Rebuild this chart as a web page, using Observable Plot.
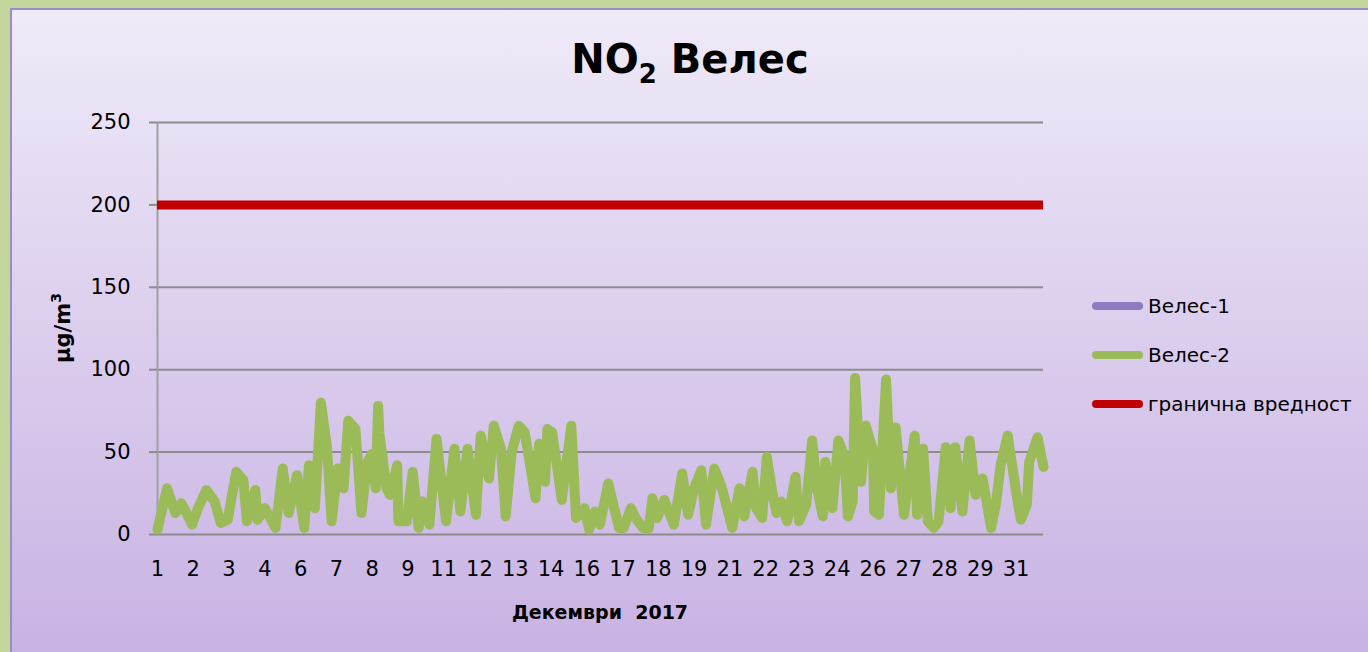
<!DOCTYPE html>
<html>
<head>
<meta charset="utf-8">
<script src="https://cdn.jsdelivr.net/npm/d3@7"></script>
<script src="https://cdn.jsdelivr.net/npm/@observablehq/plot@0.6"></script>
<style>
html,body{margin:0;padding:0;width:1368px;height:652px;overflow:hidden;background:#C3D69B;}
#frame{position:absolute;left:10px;top:8px;width:1358px;height:644px;background:linear-gradient(#EFEAF8,#C8B2E3);border-left:2px solid #9C8BC9;border-top:2px solid #9C8BC9;box-sizing:border-box;}
#chart{position:absolute;left:0;top:0;}
.txt{position:absolute;font-family:'DejaVu Sans',sans-serif;color:#000;white-space:nowrap;}
#title{left:0;width:1380px;top:36px;text-align:center;font-size:40px;font-weight:bold;}
#title sub{font-size:26px;vertical-align:-10px;line-height:0;}
#ylab{left:63px;top:328px;font-size:21px;font-weight:bold;transform:translate(-50%,-50%) rotate(-90deg);}
#ylab sup{font-size:14px;vertical-align:9px;line-height:0;}
#xlab{left:600px;top:612px;font-size:19px;font-weight:bold;transform:translate(-50%,-50%);}
.leg{position:absolute;left:1092px;width:51px;height:8px;border-radius:4px;}
.legt{left:1148px;font-size:20px;transform:translateY(-50%);}
</style>
</head>
<body>
<div id="frame"></div>
<div id="chart"></div>
<div id="title" class="txt">NO<sub>2</sub> Велес</div>
<div id="ylab" class="txt">μg/m<sup>3</sup></div>
<div id="xlab" class="txt">Декември&nbsp; 2017</div>
<div id="legend"></div>
<script>
// Hourly index (0 = 1 Dec 01:00) of read-off points, and Велес-2 values (µg/m3)
const hours = [0,8,15,20,25,29,34,41,48,53,59,62,66,72,75,82,84,90,99,105,110,117,123,127,132,137,142,146,151,156,160,166,171,176,180,183,185,186,192,195,201,202,209,214,219,222,228,234,242,249,254,260,267,271,278,282,288,292,297,303,308,317,320,325,327,331,339,347,351,358,362,367,371,378,383,387,391,397,401,407,412,415,419,425,433,440,445,450,456,460,467,473,482,488,492,499,502,507,511,516,519,523,528,535,538,544,549,553,558,560,566,571,576,579,583,585,590,594,600,601,605,611,615,619,626,635,637,642,646,651,655,661,665,669,675,681,686,692,699,703,707,713,720,724,729,731,738,743];
const velesTwo = [3,28,13,19,12,6,16,27,20,7,9,22,38,33,8,27,9,16,4,40,13,36,4,42,16,80,54,8,40,28,69,64,13,44,49,28,78,62,28,24,42,8,8,38,4,20,6,58,8,52,14,52,12,60,34,66,52,11,50,66,62,22,55,32,64,62,21,66,10,16,3,14,6,31,16,4,4,16,10,4,4,22,10,21,6,37,12,28,39,6,40,29,4,28,11,38,16,10,47,24,13,20,8,35,8,18,57,28,11,44,16,57,48,11,20,95,32,66,51,14,12,94,28,65,12,60,12,52,8,4,8,53,16,53,14,57,24,34,4,18,42,60,26,9,18,44,59,41];
const limitValue = 200;
const yTicks = [0,50,100,150,200,250];
const dayTickHours = d3.range(0, 744, 30);
const seriesNames = ["Велес-1","Велес-2","гранична вредност"];
const seriesColors = ["#8E7CC3","#9BBB59","#C00000"];

const data = hours.map((h,i) => ({hour:h, value:velesTwo[i]}));

const chart = Plot.plot({
  width: 1368,
  height: 652,
  marginLeft: 157,
  marginRight: 325,
  marginTop: 122,
  marginBottom: 118,
  style: {background:"transparent", fontFamily:"'DejaVu Sans', sans-serif", fontSize:"21px", color:"#000", overflow:"visible"},
  x: {domain:[0,743], axis:null, label:null},
  y: {domain:[0,250], axis:null, label:null},
  marks: [
    Plot.gridY(yTicks, {stroke:"#8C8C8C", strokeOpacity:1, strokeWidth:2}),
    Plot.ruleX([0], {stroke:"#A0A0A0", strokeWidth:2}),
    Plot.axisY({ticks:yTicks, label:null, tickSize:8, tickPadding:19, stroke:"#8C8C8C", fill:"#000", fontSize:21, strokeWidth:2}),
    Plot.axisX({ticks:dayTickHours, label:null, tickFormat:h => Math.floor(h/24)+1, tickSize:0, tickPadding:27, fill:"#000", fontSize:21}),
    Plot.ruleY([limitValue], {stroke:seriesColors[2], strokeWidth:9}),
    Plot.line(data, {x:"hour", y:"value", stroke:seriesColors[1], strokeWidth:10, strokeLinejoin:"round", strokeLinecap:"round"})
  ]
});
document.getElementById("chart").appendChild(chart);

const legend = document.getElementById("legend");
const legendY = [306,355,404];
seriesNames.forEach((name,i) => {
  const sw = document.createElement("div");
  sw.className = "leg";
  sw.style.top = (legendY[i]-4) + "px";
  sw.style.background = seriesColors[i];
  legend.appendChild(sw);
  const t = document.createElement("div");
  t.className = "txt legt";
  t.style.top = legendY[i] + "px";
  t.textContent = name;
  legend.appendChild(t);
});
</script>
</body>
</html>
